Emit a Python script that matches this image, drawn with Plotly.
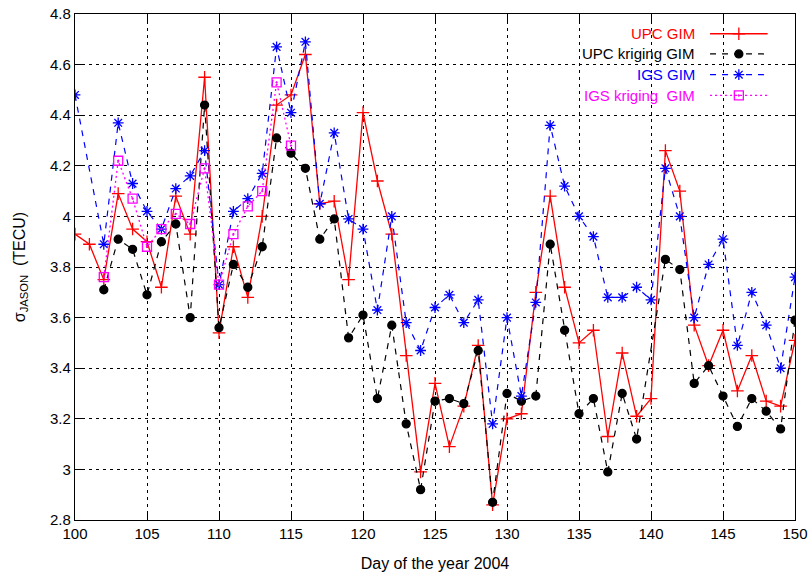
import plotly.graph_objects as go

# ---- data ----
days_upc = list(range(100, 151))
upc_gim = [3.93, 3.89, 3.75, 4.09, 3.95, 3.90, 3.72, 4.08, 3.93, 4.55,
           3.54, 3.88, 3.68, 4.00, 4.44, 4.48, 4.64, 4.05, 4.06, 3.75,
           4.41, 4.14, 3.93, 3.45, 2.99, 3.34, 3.09, 3.25, 3.49, 2.86,
           3.20, 3.22, 3.70, 4.08, 3.72, 3.50, 3.55, 3.13, 3.46, 3.21,
           3.28, 4.26, 4.10, 3.57, 3.41, 3.55, 3.31, 3.45, 3.27, 3.25, 3.51]

days_upc_krig = list(range(102, 140)) + list(range(141, 151))
upc_kriging = [3.71, 3.91, 3.87, 3.69, 3.90, 3.97, 3.60, 4.44,
               3.56, 3.81, 3.72, 3.88, 4.31, 4.25, 4.19, 3.91, 3.99, 3.52,
               3.61, 3.28, 3.57, 3.18, 2.92, 3.27, 3.28, 3.26, 3.47, 2.87,
               3.30, 3.27, 3.29, 3.89, 3.55, 3.22, 3.28, 2.99, 3.30, 3.12,
               3.83, 3.79, 3.34, 3.41, 3.29, 3.17, 3.28, 3.23, 3.16, 3.59]

days_igs = [100] + list(range(102, 151))
igs_gim = [4.48,
           3.89, 4.37, 4.13, 4.02, 3.95, 4.11, 4.16, 4.26,
           3.73, 4.02, 4.07, 4.17, 4.67, 4.41, 4.69, 4.05, 4.33, 3.99,
           3.95, 3.63, 4.00, 3.58, 3.47, 3.64, 3.69, 3.58, 3.67, 3.18,
           3.60, 3.29, 3.66, 4.36, 4.12, 4.00, 3.92, 3.68, 3.68, 3.72,
           3.67, 4.19, 4.00, 3.60, 3.81, 3.91, 3.49, 3.70, 3.57, 3.40, 3.76]

days_igs_krig = list(range(102, 116))
igs_kriging = [3.76, 4.22, 4.07, 3.88, 3.95, 4.01, 3.97, 4.19,
               3.73, 3.93, 4.04, 4.10, 4.53, 4.28]

y_ticks = [2.8, 3.0, 3.2, 3.4, 3.6, 3.8, 4.0, 4.2, 4.4, 4.6, 4.8]
y_ticktext = ["2.8", "3", "3.2", "3.4", "3.6", "3.8", "4", "4.2", "4.4", "4.6", "4.8"]
x_ticks = [100, 105, 110, 115, 120, 125, 130, 135, 140, 145, 150]

series = [
    ("UPC GIM", days_upc, upc_gim, "#ff0000", "solid", "cross-thin-open", 9, 1.3),
    ("UPC kriging GIM", days_upc_krig, upc_kriging, "#000000", "6px,6px", "circle", 8, 1.2),
    ("IGS GIM", days_igs, igs_gim, "#0000ff", "6px,6px", "asterisk-open", 9, 1.2),
    ("IGS kriging  GIM", days_igs_krig, igs_kriging, "#ff00ff", "2px,3px", "square-open-dot", 9, 1.3),
]

FONT = "Liberation Sans, Arial, Helvetica, sans-serif"

fig = go.Figure()
for name, xs, ys, col, dash, sym, msz, lw in series:
    fig.add_trace(go.Scatter(
        x=xs, y=ys, mode="lines+markers", name=name,
        line=dict(color=col, width=lw, dash=dash),
        marker=dict(symbol=sym, size=msz, color=col,
                    line=dict(color=col, width=1.3)),
        showlegend=False, xaxis="x", yaxis="y"))

# custom gnuplot-style key: text on the left, sample on the right
row_y = [0.961, 0.921, 0.880, 0.839]
for (name, xs, ys, col, dash, sym, msz, lw), ry in zip(series, row_y):
    fig.add_trace(go.Scatter(
        x=[0.882, 0.962], y=[ry, ry], mode="lines",
        line=dict(color=col, width=lw, dash=dash),
        showlegend=False, hoverinfo="skip", xaxis="x2", yaxis="y2"))
    fig.add_trace(go.Scatter(
        x=[0.922], y=[ry], mode="markers",
        marker=dict(symbol=sym, size=msz, color=col,
                    line=dict(color=col, width=1.3)),
        showlegend=False, hoverinfo="skip", xaxis="x2", yaxis="y2"))
    fig.add_annotation(x=0.864, y=ry, xref="paper", yref="paper",
                       text=name, showarrow=False, xanchor="right",
                       yanchor="middle",
                       font=dict(color=col, size=15, family=FONT))

# white key box (hides grid behind key)
fig.add_shape(type="rect", xref="paper", yref="paper",
              x0=0.646, x1=0.999, y0=0.82, y1=0.998,
              fillcolor="white", line=dict(width=0), layer="between")

axis_common = dict(
    showline=True, linecolor="black", linewidth=1.2, mirror="allticks",
    ticks="inside", ticklen=7, tickcolor="black", tickwidth=1,
    showgrid=True, gridcolor="black", gridwidth=1, griddash="3px,4px",
    zeroline=False, automargin=False, ticklabeloverflow="allow",
    tickfont=dict(size=15, color="black", family=FONT),
)

fig.update_layout(
    width=808, height=576,
    margin=dict(l=75, r=13, t=14, b=56),
    paper_bgcolor="white", plot_bgcolor="white",
    font=dict(family=FONT, color="black"),
    xaxis=dict(range=[100, 150], tickvals=x_ticks,
               title=dict(text="Day of the year 2004", font=dict(size=16), standoff=16),
               **axis_common),
    yaxis=dict(range=[2.8, 4.8], tickvals=y_ticks, ticktext=y_ticktext,
               title=dict(text="σ<sub>JASON</sub>  (TECU)", font=dict(size=16), standoff=20),
               **axis_common),
    xaxis2=dict(overlaying="x", range=[0, 1], visible=False, anchor="y2"),
    yaxis2=dict(overlaying="y", range=[0, 1], visible=False, anchor="x2"),
)

# remove the page's default 8px body margin so the 808x576 figure fills the window
fig.write_html("out.html",
               config={"displayModeBar": False},
               post_script="document.body.style.margin='0';document.body.style.overflow='hidden';")
